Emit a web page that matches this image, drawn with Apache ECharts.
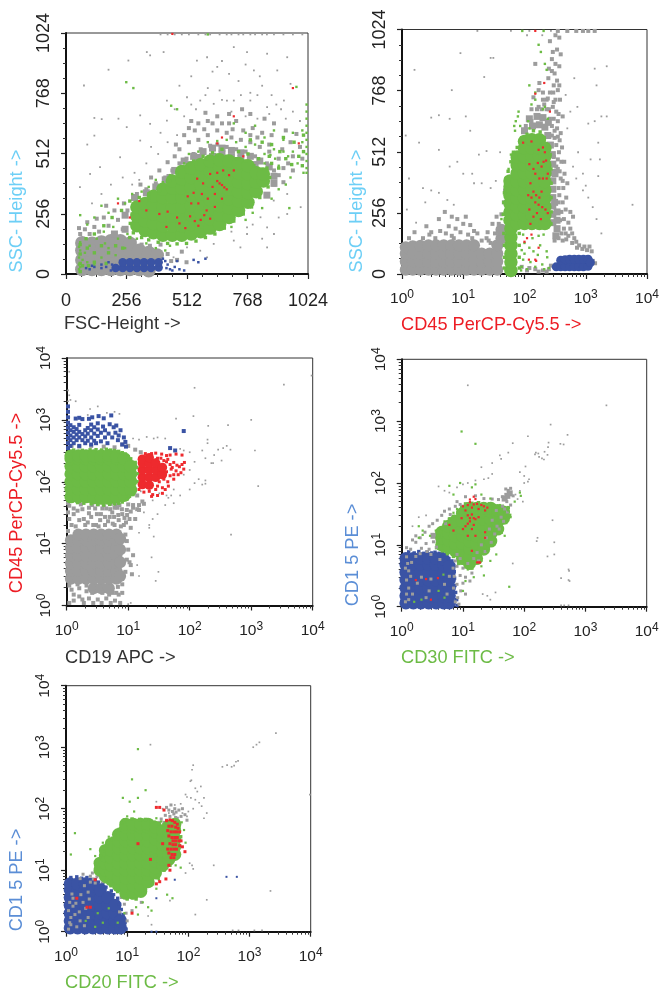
<!DOCTYPE html>
<html><head><meta charset="utf-8">
<script src="https://cdn.jsdelivr.net/npm/echarts@6/dist/echarts.min.js"></script>
<style>html,body{margin:0;padding:0;background:#fff}#c{width:667px;height:993px;filter:blur(.45px)}</style>
</head><body><div id="c"></div>
<script>
const linearTicks=[0,256,512,768,1024];
const axisNames=[["FSC-Height ->","SSC- Height ->"],["CD45 PerCP-Cy5.5 ->","SSC- Height ->"],["CD19 APC ->","CD45 PerCP-Cy5.5 ->"],["CD30 FITC ->","CD1 5 PE ->"],["CD20 FITC ->","CD1 5 PE ->"]];

/* Panel 1: FSC-Height vs SSC-Height */
const p1GrayCore=[[68,20],[68,60],[68,100],[68,132],[110,20],[110,60],[110,100],[110,130],[150,20],[150,60],[150,100],[150,135],[190,20],[190,60],[190,100],[190,140],[230,20],[230,60],[230,100],[230,140],[270,20],[270,60],[270,100],[270,130],[310,20],[310,60],[310,100],[350,15],[350,55],[350,90],[385,80]];
const p1GrayHalo=[[500,480],[540,500],[580,520],[620,535],[660,535],[700,525],[740,515],[780,500],[820,480],[860,455],[880,415],[880,385],[850,335],[460,440],[420,400],[380,370],[340,345],[290,325],[250,250],[250,190],[205,170],[620,500],[700,495],[560,495],[520,465],[660,510],[740,490],[800,465],[840,430],[440,410]];
const p1GrayMottle=[[60,170],[80,190],[120,200],[160,240],[220,230],[260,270],[200,170],[240,190],[300,340],[340,360],[380,385],[420,410],[450,440],[480,470],[510,490],[540,510],[570,530],[610,545],[640,550],[680,540],[720,530],[760,520],[800,500],[850,470],[880,440],[900,420],[920,390],[880,380],[600,590],[640,610],[680,600],[560,570],[520,560],[480,530],[460,500],[700,580],[740,570],[780,560],[820,540],[860,520],[900,490],[940,470],[960,440],[830,600],[870,590],[790,620],[720,650],[640,670],[600,650],[560,640],[520,620],[950,560],[990,540],[590,685],[530,650],[690,640],[780,590],[920,450],[55,195],[100,170],[140,180],[180,205],[90,220],[130,235],[170,290],[205,270],[245,300],[315,380],[360,410],[395,440],[430,475],[465,550],[500,590],[545,610],[585,615],[620,640],[660,640],[705,615],[750,610],[810,580],[860,550],[915,530],[960,500],[1000,490],[975,595],[930,610],[880,640],[840,660],[780,680],[745,700],[690,680],[400,125],[430,85],[445,55],[290,140],[320,125],[355,120],[470,60],[510,50],[490,95]];
const p1GraySpeck=[[180,868],[76,801],[120,663],[151,658],[90,550],[120,588],[222,660],[314,674],[342,943],[413,943],[264,907],[356,929],[554,907],[597,921],[710,964],[766,943],[851,936],[936,921],[795,865],[894,865],[950,808],[710,737],[568,737],[427,737],[512,751],[625,723],[681,737],[780,737],[851,709],[922,737],[427,652],[356,638],[257,624],[314,567],[229,496],[144,454],[102,425],[59,369],[851,198],[766,170],[851,113],[710,142],[625,128],[568,99],[879,312],[936,255],[993,284],[936,340],[823,241],[766,198],[738,113],[512,113],[455,71],[597,71],[400,1018],[430,1018],[460,1018],[490,1018],[520,1018],[560,1018],[590,1018],[610,1018],[650,1018],[680,1018],[700,1018],[730,1018],[750,1018],[780,1018],[800,1018],[830,1018],[850,1018],[880,1018],[920,1018],[960,1018],[1000,1018],[640,880],[690,850],[730,820],[780,770],[830,800],[870,760],[910,700],[960,690],[990,650],[480,800],[530,840],[600,790],[650,780],[700,690],[760,670],[810,660],[860,680],[470,590],[430,560],[390,510],[340,470],[290,430],[240,410],[190,380],[150,340],[110,300],[500,670],[550,700],[400,600],[360,540],[310,400],[280,380],[900,240],[880,170],[830,150],[790,210],[700,180],[620,860],[660,905],[760,890],[820,840],[740,760],[660,740],[590,760],[530,720],[460,700],[930,660],[890,720],[810,760]];
const p1GreenCore=[[300,205],[300,245],[300,285],[335,185],[335,225],[335,265],[335,300],[370,175],[370,215],[370,255],[370,295],[370,330],[410,165],[410,205],[410,245],[410,285],[410,325],[410,360],[450,165],[450,205],[450,245],[450,285],[450,325],[450,365],[450,395],[490,165],[490,205],[490,245],[490,285],[490,325],[490,365],[490,405],[490,435],[530,170],[530,210],[530,250],[530,290],[530,330],[530,370],[530,410],[530,450],[570,180],[570,220],[570,260],[570,300],[570,340],[570,380],[570,420],[570,465],[610,195],[610,235],[610,275],[610,315],[610,355],[610,395],[610,435],[610,480],[650,210],[650,250],[650,290],[650,330],[650,370],[650,410],[650,450],[650,485],[690,240],[690,280],[690,320],[690,360],[690,400],[690,440],[690,480],[730,270],[730,310],[730,350],[730,390],[730,430],[730,470],[770,305],[770,345],[770,385],[770,425],[770,460],[805,350],[805,390],[805,430],[835,395],[835,425]];
const p1GreenMottle=[[850,450],[870,470],[900,450],[930,490],[955,465],[985,500],[1000,460],[905,520],[860,500],[815,490],[770,510],[730,520],[780,570],[830,560],[870,550],[920,580],[965,560],[1005,520],[1005,590],[660,530],[620,515],[580,500],[540,480],[500,455],[470,425],[430,395],[395,370],[350,340],[310,325],[270,310],[235,270],[195,240],[160,205],[120,170],[85,150],[60,125],[60,85],[60,45],[60,10],[90,110],[120,90],[150,120],[180,90],[210,120],[240,110],[270,155],[120,50],[170,45],[95,35],[70,35],[272,215],[280,255],[285,175],[320,155],[350,145],[390,135],[430,130],[470,128],[510,130],[550,140],[590,155],[630,170],[670,195],[710,225],[750,255],[785,285],[820,325],[855,370],[862,410],[350,325],[395,355],[440,395],[510,455],[550,470],[595,490],[640,505],[680,500],[720,490],[760,480],[795,460],[825,445]];
const p1GreenSpeck=[[710,640],[760,600],[800,630],[840,580],[880,610],[920,570],[960,600],[1000,560],[1000,610],[960,520],[920,520],[880,530],[840,510],[800,550],[760,540],[720,560],[680,570],[640,565],[600,560],[560,520],[520,510],[500,470],[470,430],[440,420],[410,390],[380,400],[350,370],[320,350],[280,340],[250,300],[220,320],[180,260],[150,290],[120,240],[90,210],[60,250],[200,200],[160,180],[130,150],[100,120],[80,90],[70,60],[60,30],[60,10],[60,100],[55,70],[90,50],[120,40],[150,70],[180,110],[220,150],[260,170],[300,150],[340,130],[380,110],[420,100],[440,120],[900,460],[940,500],[980,470],[1005,430],[1018,450],[1018,480],[1018,510],[1018,540],[1018,570],[1018,600],[1018,630],[1018,660],[1018,690],[1018,720],[1018,430],[930,380],[950,410],[900,360],[870,320],[830,280],[790,260],[760,230],[700,200],[255,815],[285,790],[445,715],[470,700],[975,795],[945,280],[865,505],[885,490],[840,470],[600,1018],[250,110],[210,80],[165,130],[55,40],[55,20],[55,115],[60,135]];
const p1Blue=[[210,25],[240,25],[270,25],[300,25],[330,25],[360,25],[392,28],[240,50],[270,50],[300,50],[330,50],[360,50],[392,50]];
const p1BlueSpeck=[[85,25],[100,20],[120,30],[150,25],[170,30],[110,35],[150,40],[195,40],[430,40],[460,30],[480,20],[440,20],[500,15],[420,55],[470,55],[540,60],[590,65],[560,50],[450,15],[425,25],[410,65],[190,15],[180,50]];
const p1Red=[[450,1020],[340,270],[395,255],[425,200],[430,265],[470,240],[480,215],[505,195],[525,245],[545,225],[560,205],[570,230],[585,250],[595,270],[610,235],[630,285],[560,300],[530,300],[515,330],[540,345],[575,340],[600,320],[630,340],[660,320],[580,385],[555,405],[620,370],[640,395],[650,385],[660,378],[670,368],[680,360],[610,425],[640,430],[665,440],[690,420],[710,440],[750,500],[640,555],[660,580],[710,670],[985,555],[960,790],[310,310],[220,300],[270,240]];

/* Panel 2: CD45 PerCP-Cy5.5 vs SSC-Height */
const p2GrayCore=[[1.15,18],[1.15,52],[1.15,86],[1.15,112],[1.5,18],[1.5,52],[1.5,86],[1.5,116],[2,18],[2,52],[2,86],[2,118],[2.7,18],[2.7,52],[2.7,86],[2.7,120],[3.6,18],[3.6,52],[3.6,86],[3.6,120],[4.8,18],[4.8,52],[4.8,86],[4.8,120],[6.4,18],[6.4,52],[6.4,86],[6.4,120],[8.5,18],[8.5,52],[8.5,86],[8.5,120],[11.3,18],[11.3,52],[11.3,86],[11.3,120],[15,18],[15,52],[15,86],[15,120],[20,18],[20,52],[20,86],[27,18],[27,52],[27,86],[36,18],[36,52],[36,86],[36,120],[42,150],[42,185]];
const p2GrayHalo=[[290,215],[290,250],[290,285],[290,320],[290,355],[290,390],[290,425],[290,460],[340,190],[340,225],[340,260],[135,620],[175,625],[215,615],[240,580],[265,540],[160,660],[100,600],[120,650],[200,655],[245,635],[285,500],[315,420],[310,300],[325,160]];
const p2GrayMottle=[[2.2,150],[2.8,165],[3.5,150],[4.2,180],[5.2,170],[6.5,160],[7.5,190],[9,175],[10,210],[12,165],[14,150],[17,170],[20,140],[24,150],[28,130],[33,170],[38,210],[42,250],[46,300],[48,350],[1.3,150],[1.6,175],[4,230],[5,260],[6.5,240],[8,230],[11,240],[13,205],[360,300],[400,260],[440,230],[520,215],[560,190],[400,170],[470,170],[520,160],[360,150],[420,140],[310,140],[350,440],[390,400],[430,360],[480,320],[560,260],[620,240],[350,480],[400,470],[450,420],[500,380],[360,360],[300,490],[330,540],[375,560],[280,620],[310,600],[340,610],[390,590],[330,680],[300,650],[350,640],[420,660],[290,700],[250,690],[210,710],[320,730],[380,730],[260,760],[300,790],[340,810],[280,850],[320,880],[370,870],[340,940],[390,920],[290,930],[260,975],[370,990],[320,1000],[170,700],[130,690],[140,740],[175,800],[150,880],[1100,70],[1300,55],[1420,45],[1250,95],[1050,100],[880,105],[720,110],[600,130],[60,120],[90,30],[110,15],[150,20],[200,15],[250,20],[1100,1018],[1400,1018],[900,1018],[700,1018],[500,1018],[350,1018],[370,330],[420,300],[470,270],[440,190],[480,145],[380,225],[330,450],[375,430],[420,390],[365,510],[310,570],[350,575],[410,530],[445,470],[360,670],[230,730],[295,760],[350,770],[200,760],[245,820],[310,840],[370,790],[600,170],[650,150],[700,135],[780,120],[950,115],[1150,115],[3,175],[1.9,130],[2.5,200],[5.8,200],[7,150],[15,180],[25,175],[30,210],[35,240],[26,140],[120,25],[170,10],[230,10],[270,35],[130,640],[160,690],[190,690],[230,690],[260,650],[280,580],[105,620],[240,735],[200,730],[170,770],[300,720],[250,860],[280,900]];
const p2GraySpeck=[[1.2,270],[1.7,215],[2.4,300],[3,350],[4,340],[5.5,310],[7,290],[1.15,580],[1.9,550],[6.5,770],[9,925],[11,660],[3,655],[4,665],[6,650],[1.6,855],[28,905],[31,905],[22,825],[40,510],[24,515],[18,500],[10,420],[14,420],[8,470],[6,450],[4,520],[13,600],[15,380],[20,380],[28,360],[34,390],[2.2,360],[1.3,400],[17,1018],[3,30],[5,8],[60,1018],[120,1018],[110,1000],[195,1000],[270,1018],[650,820],[1400,860],[1500,790],[2200,870],[1100,630],[1400,640],[1800,660],[2200,660],[1600,550],[1700,480],[1200,480],[1600,410],[900,350],[1100,320],[1300,280],[1500,230],[1800,170],[1000,370],[5800,290],[700,400],[620,450],[900,420],[750,510],[500,610],[560,680],[730,700],[470,750]];
const p2GreenCore=[[60,15],[60,50],[60,85],[60,120],[60,155],[60,190],[58,225],[58,260],[58,295],[58,330],[58,365],[58,390],[76,212],[76,247],[76,282],[76,317],[76,352],[76,387],[76,422],[76,457],[76,490],[100,212],[100,247],[100,282],[100,317],[100,352],[100,387],[100,422],[100,457],[100,492],[100,527],[100,555],[132,212],[132,247],[132,282],[132,317],[132,352],[132,387],[132,422],[132,457],[132,492],[132,527],[132,562],[175,212],[175,247],[175,282],[175,317],[175,352],[175,387],[175,422],[175,457],[175,492],[175,527],[175,562],[215,212],[215,247],[215,282],[215,317],[215,352],[215,387],[215,422],[215,457],[215,492],[215,527]];
const p2GreenFringe=[[45,250],[46,300],[47,340],[50,400],[54,430],[60,470],[66,510],[76,530],[90,570],[110,585],[140,600],[180,595],[210,570],[240,540],[262,500],[270,440],[272,380],[272,320],[272,260],[270,210],[46,170],[47,120],[47,70],[47,25],[82,170],[82,120],[82,70],[82,25]];
const p2GreenSpeck=[[90,30],[95,60],[90,100],[100,130],[95,165],[110,20],[125,50],[120,110],[135,150],[150,30],[165,80],[180,120],[195,40],[210,20],[230,95],[250,25],[140,95],[170,160],[205,165],[235,70],[88,15],[100,85],[68,620],[72,640],[78,660],[80,680],[70,600],[85,560],[85,620],[120,610],[115,640],[130,710],[150,760],[205,1018],[92,1018],[170,960],[185,930],[215,880],[230,855],[120,790],[150,730],[200,690],[215,700],[240,650],[60,500],[55,440],[48,350],[42,230],[47,120]];
const p2Blue=[[330,30],[390,30],[460,30],[545,30],[650,30],[770,30],[915,30],[1090,32],[390,58],[460,60],[545,62],[650,62],[770,62],[915,62],[1090,62],[1190,48]];
const p2Red=[[150,1018],[210,800],[260,680],[150,755],[95,550],[130,555],[170,520],[200,530],[215,510],[120,460],[140,440],[165,465],[190,450],[205,470],[225,475],[150,420],[175,400],[200,400],[230,400],[240,420],[125,380],[140,345],[155,330],[175,320],[190,345],[115,330],[130,320],[150,300],[170,290],[195,280],[220,270],[240,255],[120,270],[140,240],[160,255],[185,230],[125,210],[110,150],[100,135],[130,165],[118,60],[150,60],[155,55],[170,110]];

/* Panel 3: CD19 APC vs CD45 PerCP-Cy5.5 */
const p3GrayCore=[[1.17,2.7],[1.17,3.6],[1.17,4.8],[1.17,6.4],[1.17,8.5],[1.17,11.3],[1.55,2.7],[1.55,3.6],[1.55,4.8],[1.55,6.4],[1.55,8.5],[1.55,11.3],[1.55,14],[2.06,2.7],[2.06,3.6],[2.06,4.8],[2.06,6.4],[2.06,8.5],[2.06,11.3],[2.06,14],[2.75,1.9],[2.75,2.7],[2.75,3.6],[2.75,4.8],[2.75,6.4],[2.75,8.5],[2.75,11.3],[2.75,14],[3.65,1.9],[3.65,2.7],[3.65,3.6],[3.65,4.8],[3.65,6.4],[3.65,8.5],[3.65,11.3],[3.65,14],[4.85,1.9],[4.85,2.7],[4.85,3.6],[4.85,4.8],[4.85,6.4],[4.85,8.5],[4.85,11.3],[4.85,14],[6.45,2.7],[6.45,3.6],[6.45,4.8],[6.45,6.4],[6.45,8.5],[6.45,11.3],[6.45,14],[7.4,3],[7.4,5],[7.4,8],[7.4,12]];
const p3GrayMottle=[[1.1,1.1],[1.3,1.2],[1.6,1.4],[1.9,1.1],[2.3,1.3],[2.7,1.1],[3.2,1.25],[3.7,1.1],[4.4,1.3],[5.2,1.1],[6.1,1.2],[7.4,1.1],[1.2,1.8],[1.6,1.9],[2.1,1.7],[6.4,1.6],[8,1.6],[8,2.2],[6.8,2],[1.1,2.1],[1.5,2.2],[9,3.5],[9.5,5.5],[10,8],[10.5,5],[9.5,11],[9,14],[11,4.5],[11.5,3.2],[12,6.5],[1.2,20],[1.6,24],[2,20],[2.5,27],[3,20],[3.5,24],[4.2,20],[5,27],[6,20],[7,24],[8.5,20],[1.3,30],[1.8,36],[2.3,31],[2.9,37],[3.6,30],[4.4,37],[5.5,32],[6.7,38],[8,30],[9.5,35],[1.1,41],[1.7,43],[3.2,43],[5.2,44],[7.2,42],[10,43],[12,38],[14,36],[13,25],[11,18],[15,42],[18,44],[16,300],[13,330],[10,380],[8,400],[6,360],[4,370],[2.5,380],[1.6,370],[1.2,380],[1.1,25],[1.4,19],[1.5,34],[1.9,25],[2.2,22],[2.3,38],[2.7,20],[3.1,30],[3.3,19],[3.8,37],[4.2,27],[4.7,23],[5.1,36],[5.6,21],[5.9,27],[6.3,42],[6.9,29],[7.6,19],[7.9,36],[8.7,26],[9.2,22],[9.6,29],[10.5,25],[1.3,37],[2.6,42],[4,42],[6,38],[1.05,32],[1.05,16],[1.05,45],[3.8,1.6],[2.6,1.6],[4.9,1.5],[1.3,1.5],[1.8,1.25],[2.1,2.1],[5.6,1.6],[7,1.5],[14,60],[15,35],[17,48],[12,42],[11,33]];
const p3GraySpeck=[[1.05,450],[1.05,600],[1.1,1100],[1.05,1400],[1.05,2000],[1.1,2500],[1.05,3000],[1.15,2100],[1.4,2000],[2.2,1200],[2.4,1500],[3.2,1650],[4.5,1300],[6,1350],[7.2,1250],[12,500],[15,480],[20,530],[26,500],[30,520],[40,500],[60,1050],[120,3300],[115,1150],[195,480],[195,420],[200,800],[420,820],[1000,1000],[3400,3700],[9600,5200],[160,320],[180,240],[225,200],[250,270],[330,220],[290,330],[350,350],[400,380],[460,330],[1150,320],[1300,85],[470,14],[180,93],[160,90],[140,110],[100,155],[80,130],[70,60],[50,60],[55,75],[45,55],[40,42],[30,30],[25,25],[22,18],[18,32],[15,15],[26,13],[24,6],[22,20],[31,3.5],[28,2.5],[14,4.5],[15,3],[10,1.05],[11,1.1],[16,70],[25,50],[32,65],[42,60],[55,45],[100,75],[120,95],[180,105],[120,210],[100,300],[80,320],[70,340],[240,200],[1.1,6000]];
const p3GreenCore=[[1.17,57],[1.17,76],[1.17,101],[1.17,134],[1.17,178],[1.17,236],[1.17,262],[1.55,57],[1.55,76],[1.55,101],[1.55,134],[1.55,178],[1.55,236],[1.55,262],[2.06,57],[2.06,76],[2.06,101],[2.06,134],[2.06,178],[2.06,236],[2.06,262],[2.75,55],[2.75,76],[2.75,101],[2.75,134],[2.75,178],[2.75,236],[2.75,262],[3.65,54],[3.65,76],[3.65,101],[3.65,134],[3.65,178],[3.65,236],[3.65,262],[4.85,54],[4.85,76],[4.85,101],[4.85,134],[4.85,178],[4.85,236],[4.85,268],[6.45,57],[6.45,76],[6.45,101],[6.45,134],[6.45,178],[6.45,236],[6.45,255],[8.6,60],[8.6,76],[8.6,101],[8.6,134],[8.6,178],[8.6,236],[11,74],[11,101],[11,134],[11,178]];
const p3GreenFringe=[[13,75],[14,100],[14.5,135],[13.8,170],[13,205],[11,235],[10,255],[1.3,325],[1.8,322],[2.4,328],[3,330],[3.7,326],[4.4,335],[5.2,325],[6,320],[7,310],[8,295],[9,280],[1.5,46],[1.9,45],[2.5,44],[3.2,43],[4,42],[5,43],[6,44],[7,45],[8,47],[9.5,52],[10.5,58],[12,62]];
const p3Blue=[[1.05,350],[1.05,420],[1.05,510],[1.05,620],[1.05,750],[1.05,900],[1.05,1100],[1.05,1350],[1.05,1650],[1.15,380],[1.15,470],[1.15,560],[1.15,680],[1.15,820],[1.3,420],[1.3,520],[1.3,640],[1.3,760],[1.45,470],[1.45,580],[1.45,710],[1.6,380],[1.6,520],[1.6,640],[1.6,830],[1.8,470],[1.8,590],[1.8,1030],[2,420],[2,540],[2,680],[2.2,460],[2.2,600],[2.2,740],[2.5,400],[2.5,520],[2.5,680],[2.5,840],[2.8,460],[2.8,600],[2.8,760],[3,420],[3.2,550],[3.2,700],[3.2,880],[3.6,450],[3.6,620],[3.9,780],[4.2,520],[4.2,680],[4.6,420],[4.8,600],[5,850],[5.5,520],[5.8,760],[6.2,620],[6.8,470],[7,560],[7.5,680],[8,400],[8.5,520],[9,440],[1.4,1050],[1.6,1080],[2.3,1040],[2.6,1100],[3.3,1150],[4,1060],[5.3,1180],[6.4,810],[9.2,370],[48,350],[80,660],[58,320]];
const p3RedCore=[[17,90],[17,118],[17,155],[17,200],[17,232],[22,88],[22,118],[22,155],[22,200],[22,245],[28,118],[28,155],[28,200],[36,130],[36,170]];
const p3RedSpeck=[[15,75],[18,68],[22,70],[25,62],[28,75],[30,85],[32,100],[36,80],[40,75],[38,110],[44,100],[48,125],[42,145],[50,160],[55,130],[60,150],[68,175],[75,190],[82,205],[62,185],[55,205],[48,190],[42,210],[38,220],[30,240],[35,280],[28,290],[24,285],[19,285],[42,265],[48,270],[60,280],[75,270],[55,110],[65,130],[72,140],[45,85],[36,65],[30,60],[24,58],[40,170],[44,230],[52,170],[34,240],[29,225],[80,160]];

/* Panel 4: CD30 FITC vs CD15 PE */
const p4BlueCore=[[1.17,1.15],[1.17,1.5],[1.17,2],[1.17,2.7],[1.17,3.6],[1.17,4.8],[1.17,6],[1.55,1.15],[1.55,1.5],[1.55,2],[1.55,2.7],[1.55,3.6],[1.55,4.8],[1.55,6],[2.06,1.15],[2.06,1.5],[2.06,2],[2.06,2.7],[2.06,3.6],[2.06,4.8],[2.06,6],[2.75,1.15],[2.75,1.5],[2.75,2],[2.75,2.7],[2.75,3.6],[2.75,4.8],[2.75,6],[3.65,1.15],[3.65,1.5],[3.65,2],[3.65,2.7],[3.65,3.6],[3.65,4.8],[3.65,6],[4.85,1.15],[4.85,1.5],[4.85,2],[4.85,2.7],[4.85,3.6],[4.85,4.8],[4.85,5.8],[6,1.15],[6,1.5],[6,2],[6,2.7],[6,3.6],[6,4.5]];
const p4BlueFringe=[[1.3,7.7],[1.6,7.4],[1.9,7.8],[2.3,7.3],[2.6,7.7],[3.1,7.4],[3.5,7.6],[4.1,7.3],[4.6,7.2],[5.3,7],[5.9,6],[6.6,5.5],[7,4.6],[7.2,3.7],[7.3,2.9],[7.4,2.2],[7.6,1.7],[7.9,1.3],[8,1.05]];
const p4GrayCore=[[5,11.3],[4,12],[3.3,14],[5.6,16],[7,24],[10,40],[13,44],[58,68],[53,62],[48,56]];
const p4GrayMottle=[[1.2,9],[1.4,8.5],[1.7,11],[2.1,8.8],[2.5,10.5],[2.8,8.5],[3.3,11.2],[3.7,9.2],[1.5,12],[1.7,14],[2,13],[2.4,16],[2.8,20],[3.2,22],[3.8,25],[4.5,30],[5,35],[6,38],[7.5,42],[9,45],[9,6],[8,4.5],[9,3.2],[8,2.3],[9.2,1.8],[8.2,1.4],[8.6,1.1],[10,4.2],[11,3],[13,2.6],[12,5],[15,6],[17,7.5],[20,10],[24,13],[27,18],[30,25],[36,20],[42,28],[48,38],[35,36],[44,42],[52,50],[38,54],[44,60],[30,55],[66,62],[60,82],[55,76],[50,80],[1.2,2.7],[1.3,2],[1.2,1.6],[1.4,3.1],[1.5,1.6],[1.8,2.4],[2.1,3],[2.5,1.4],[2.8,1.8],[3,2.8],[1.3,3.8],[1.25,5],[5,2.3],[5.5,1.6],[6,3.1],[4.2,5.8],[1.15,1.2],[1.3,1.3],[1.15,4.2],[1.2,6.4],[1.45,5.2],[1.7,6.5],[2,7.2],[2.6,7.8],[3,7],[7.5,5.5],[8,7],[6.9,4.2],[7.2,3.1],[7,2],[7.5,1.2],[10,2.4],[11,1.6],[14,3.5],[18,5.5],[23,7.8],[29,11],[33,15],[39,18],[46,24],[53,34],[60,44],[5.2,22],[6.2,31],[8,50],[11,60],[16,62],[22,56]];
const p4GraySpeck=[[12,3800],[2200,1800],[270,880],[510,600],[440,420],[390,430],[250,450],[245,380],[115,570],[65,440],[170,300],[150,290],[175,265],[195,250],[210,240],[240,285],[155,310],[215,320],[105,185],[120,115],[100,130],[85,150],[100,100],[115,105],[55,310],[40,280],[42,245],[30,210],[30,140],[26,120],[20,180],[22,115],[16,110],[12,100],[10,95],[8,85],[4,88],[5,75],[6,70],[290,25],[165,13],[160,11.5],[310,11],[240,6.5],[310,7],[65,5],[530,4],[400,2.9],[530,2.7],[550,2.6],[540,3.8],[400,1.05],[450,1.05],[530,1.05],[25,1.5],[34,1.7],[28,1.3],[21,1.6],[1.9,28],[2.5,30],[1.5,20],[72,65],[85,75],[78,55],[95,50]];
const p4GreenCore=[[4.5,10],[4.5,13],[4.5,16],[5.8,9],[5.8,12],[5.8,15.5],[5.8,20],[7.5,8],[7.5,10.5],[7.5,14],[7.5,18.5],[7.5,24],[9.8,6],[9.8,8],[9.8,10.5],[9.8,14],[9.8,18.5],[9.8,24],[9.8,32],[12.8,5],[12.8,6.6],[12.8,8.7],[12.8,11.5],[12.8,15],[12.8,20],[12.8,26],[12.8,34],[12.8,39],[16.7,6],[16.7,8],[16.7,10.5],[16.7,14],[16.7,18.5],[16.7,24],[16.7,32],[16.7,39],[21.8,8.5],[21.8,11],[21.8,15],[21.8,20],[21.8,26],[21.8,34],[21.8,39],[28.5,11.5],[28.5,15],[28.5,20],[28.5,26],[28.5,34],[28.5,39],[37,18],[37,24],[37,32],[37,36],[46,27],[46,34]];
const p4GreenFringe=[[3.7,9],[4,14],[4.6,19],[5.2,22],[6,26],[7,29],[8.3,34],[9.6,40],[11,46],[14,47],[18,48],[22,46],[27,46],[33,43],[44,42],[55,40],[58,30],[50,23],[42,16],[32,12],[24,8],[19,5.8],[14,4.2],[11,4.4],[8.5,5],[7,6.5],[5.6,7.2],[4.6,8]];
const p4GreenSpeck=[[4,13],[3.6,17],[2.9,14],[2.2,17],[1.9,20],[1.9,13],[2.2,14.5],[4.5,18],[5,24],[6,27],[7,33],[8,38],[7,65],[9,100],[16,95],[14,85],[6,90],[20,65],[28,56],[40,44],[48,34],[55,36],[60,28],[70,50],[85,70],[88,62],[9.5,680],[16,430],[57,2.1],[48,14],[35,7],[28,5.5],[20,4.5],[25,8],[22,3.2],[12,4],[15,3],[11,2.6],[10,1.8],[4,1.8],[5,1.4],[4.8,3.3],[2.1,1.3],[1.6,1.2],[20,5.5]];
const p4Red=[[9.5,27],[10,42],[11,36],[12,44],[13,49],[14,40],[15,45],[16,55],[17,46],[18,38],[20,44],[22,42],[23,36],[25,40],[12,30],[13,27],[14,31],[15,27],[16,26],[13,24],[12,22],[11,20],[15,21],[14,18],[18,28],[6,21],[7,17],[10,18],[23,16],[12,14],[16,14],[14,8],[17,5.2],[18,5.2],[19,5.2],[23,13],[1.7,2.7],[2.5,2.8],[3.9,2.9],[3,1.3],[15,60],[13,54]];

/* Panel 5: CD20 FITC vs CD15 PE */
const p5BlueCore=[[1.17,1.15],[1.17,1.5],[1.17,2],[1.17,2.7],[1.17,3.6],[1.17,4.8],[1.17,6],[1.55,1.15],[1.55,1.5],[1.55,2],[1.55,2.7],[1.55,3.6],[1.55,4.8],[1.55,6],[2.06,1.15],[2.06,1.5],[2.06,2],[2.06,2.7],[2.06,3.6],[2.06,4.8],[2.06,6],[2.75,1.15],[2.75,1.5],[2.75,2],[2.75,2.7],[2.75,3.6],[2.75,4.8],[2.75,5.6],[3.65,1.15],[3.65,1.5],[3.65,2],[3.65,2.7],[3.65,3.6],[3.65,4.8],[4.85,1.15],[4.85,1.5],[4.85,2],[4.85,2.7],[4.85,3.6],[6.3,1.15],[6.3,1.5],[6.3,2],[6.3,2.7],[7.8,1.15],[7.8,1.5]];
const p5BlueFringe=[[1.2,7.6],[1.5,7.8],[1.8,7.4],[2.2,7.6],[2.5,7.1],[3,7],[3.4,6.4],[4,6],[4.5,5.3],[5.5,4.6],[6,4],[7,3.5],[7.5,2.8],[8,2.3],[8.6,1.9],[9.2,1.4],[9.6,1.1]];
const p5GrayMottle=[[1.1,1.1],[1.2,1.7],[1.1,2.2],[1.3,2.6],[1.2,1.3],[1.5,1.2],[1.7,1.5],[2,1.25],[2.3,1.7],[1.4,1.9],[1.9,3],[2.1,2.4],[2.4,3.4],[1.3,3.5],[2.3,4.4],[2,5.6],[2.5,6.4],[2.8,7.2],[3.2,7.8],[3.5,8.3],[2.5,8],[1.7,7.3],[1.9,8.6],[3,6.2],[4,6.5],[4.8,6.8],[8,3.6],[9,2.8],[7.5,2.1],[9.6,2],[10,1.5],[12,2.2],[15,4.2],[17,3],[13,4],[40,60],[44,65],[50,75],[58,82],[63,88],[70,95],[80,100],[66,70],[72,55],[34,60],[36,68],[30,52],[38,50],[1.15,1.4],[1.15,3],[1.25,4.1],[1.45,2.9],[1.65,2.1],[1.75,4],[2.7,9],[3.9,9.5],[4.4,8.2],[5.5,6],[62,72],[55,90],[48,95],[42,78],[76,75],[88,80],[95,65],[52,115],[60,100],[44,105]];
const p5GraySpeck=[[2700,1700],[1450,1200],[1300,1100],[1150,1000],[650,600],[600,580],[560,500],[510,480],[430,510],[360,480],[120,510],[115,430],[112,290],[108,280],[160,230],[130,215],[140,190],[90,170],[95,155],[110,150],[180,150],[130,140],[150,125],[165,110],[120,100],[100,90],[80,85],[95,75],[200,85],[180,70],[24,1100],[9700,170],[260,12],[2200,4.6],[200,3.3],[50,3.2],[22,1.8],[25,1.3],[130,1.9],[530,1.05],[660,1.05],[1200,1.05],[1600,1.05],[120,10.5],[115,12],[105,13],[90,9],[30,130],[38,100],[48,85],[60,115],[75,120]];
const p5GreenCore=[[3.6,10],[3.6,13],[4.4,8],[4.4,10],[4.4,13],[4.4,17],[4.4,21],[5.5,7],[5.5,9],[5.5,12],[5.5,16],[5.5,21],[5.5,27],[7.2,5.6],[7.2,7.5],[7.2,10],[7.2,13],[7.2,17.5],[7.2,23],[7.2,30],[7.2,38],[9.5,4.2],[9.5,5.6],[9.5,7.5],[9.5,10],[9.5,13],[9.5,17.5],[9.5,23],[9.5,30],[9.5,38],[9.5,50],[9.5,56],[12.6,4.2],[12.6,5.6],[12.6,7.5],[12.6,10],[12.6,13],[12.6,17.5],[12.6,23],[12.6,30],[12.6,38],[12.6,50],[12.6,56],[16.7,4.5],[16.7,5.6],[16.7,7.5],[16.7,10],[16.7,13],[16.7,17.5],[16.7,23],[16.7,30],[16.7,38],[16.7,50],[16.7,56],[22,6.5],[22,8.5],[22,10],[22,13],[22,17.5],[22,23],[22,30],[22,38],[22,50],[22,56],[29,9],[29,11],[29,14],[29,18],[29,24],[29,32],[29,42],[29,50],[38,12],[38,15],[38,20],[38,26],[38,34],[38,44],[48,15],[48,18],[48,24],[48,32],[48,42],[48,52],[60,18],[60,24],[60,32],[60,44],[60,56]];
const p5GreenFringe=[[3.1,11],[3.3,14.5],[3.7,17],[4.2,23],[4.9,28],[5.7,33],[6.4,40],[7.4,46],[8.3,58],[9,66],[12,68],[16,67],[20,67],[25,62],[33,57],[40,55],[50,60],[70,50],[75,35],[72,25],[68,17],[50,12],[40,10],[32,7.5],[26,6],[20,5],[14,3.4],[10,3.4],[7,4.5],[5.4,5.6],[4.4,6.5]];
const p5GreenSpeck=[[3,13],[3.6,16],[4.2,20],[4.8,24],[5.6,30],[6.4,38],[7.6,48],[9,60],[10,75],[13,90],[12,300],[15,930],[8.5,150],[15,150],[20,200],[11,130],[1.4,40],[1.2,18],[3,17],[2.5,22],[4,28],[5,35],[8,60],[30,70],[28,62],[36,62],[78,60],[85,45],[90,28],[70,20],[62,12],[60,15],[75,11],[33,7],[30,5],[45,4],[55,3.5],[18,3],[22,2.5],[25,2.2],[14,2.5],[15,1.9],[12,3.5],[9,2],[3,1.2],[4,1.4],[7,1.4],[5,2.4],[3.3,2],[2.1,1.5]];
const p5Red=[[44,64],[50,66],[55,64],[60,60],[66,56],[48,52],[54,52],[62,50],[68,48],[46,44],[52,42],[58,42],[64,42],[72,42],[48,36],[54,34],[60,34],[66,34],[56,30],[62,30],[70,30],[76,30],[50,27],[56,26],[62,26],[72,25],[46,22],[52,22],[58,22],[64,22],[80,24],[48,19],[54,18],[60,18],[52,16],[58,16],[88,20],[34,105],[30,105],[40,95],[38,27],[15,27],[24,15],[48,12],[50,10],[43,7.2],[34,6.5],[30,6],[1.5,3.5],[2.2,2.5],[2.5,2.5],[12,2],[3,7]];
const p5Blue2=[[420,7.8],[620,7.8],[60,7],[30,3.5],[25,1],[30,1]];

const COLORS={gray:"#9c9c9c",green:"#6cbb45",blue:"#3a53a4",red:"#ee2a2e"};
const layouts=[[66,33,242,241],[402,29.5,245,244.5],[66.7,358,246,247.5],[401.7,359.3,245,247.4],[66,685.7,244.7,246]];
const nameStyle=[[["#333",64,324],["#6dcff6",17,211]],[["#ed1c24",401,325],["#6dcff6",357,211]],[["#333",65,658],["#ed1c24",17,503]],[["#6cbb45",401,658],["#5b8ed6",353,555]],[["#6cbb45",65,983],["#5b8ed6",17,880]]];

const layers=[
 [p1GrayCore,"gray",14,"circle"],[p1GrayHalo,"gray",7,"rect"],[p1GraySpeck,"gray",1.8,"rect"],[p1GrayMottle,"gray",4,"rect"],[p1GreenCore,"green",13.5,"circle"],[p1GreenMottle,"green",3.4,"rect"],[p1GreenSpeck,"green",2.4,"rect"],[p1Blue,"blue",8.5,"circle"],[p1BlueSpeck,"blue",2.5,"rect"],[p1Red,"red",2.2,"rect"]
].map(l=>[0,...l]).concat([
 [p2GrayCore,"gray",12,"circle"],[p2GrayHalo,"gray",7,"rect"],[p2GrayMottle,"gray",4,"rect"],[p2GraySpeck,"gray",1.8,"rect"],[p2GreenCore,"green",13.5,"circle"],[p2GreenFringe,"green",3.4,"rect"],[p2GreenSpeck,"green",2.4,"rect"],[p2Blue,"blue",9,"circle"],[p2Red,"red",2.2,"rect"]
].map(l=>[1,...l])).concat([
 [p3GrayCore,"gray",12,"circle"],[p3GrayMottle,"gray",4,"rect"],[p3GraySpeck,"gray",1.7,"rect"],[p3GreenCore,"green",13,"circle"],[p3GreenFringe,"green",3.4,"rect"],[p3Blue,"blue",4,"rect"],[p3RedCore,"red",9.5,"circle"],[p3RedSpeck,"red",3,"rect"]
].map(l=>[2,...l])).concat([
 [p4BlueCore,"blue",13,"circle"],[p4BlueFringe,"blue",3.4,"rect"],[p4GrayCore,"gray",6,"rect"],[p4GreenCore,"green",13,"circle"],[p4GreenFringe,"green",3.4,"rect"],[p4GrayMottle,"gray",3,"rect"],[p4GraySpeck,"gray",1.7,"rect"],[p4GreenSpeck,"green",2.2,"rect"],[p4Red,"red",2.2,"rect"]
].map(l=>[3,...l])).concat([
 [p5BlueCore,"blue",13,"circle"],[p5BlueFringe,"blue",3.4,"rect"],[p5GrayMottle,"gray",3,"rect"],[p5GraySpeck,"gray",1.7,"rect"],[p5GreenCore,"green",13,"circle"],[p5GreenFringe,"green",3.4,"rect"],[p5GreenSpeck,"green",2.2,"rect"],[p5Red,"red",3,"rect"],[p5Blue2,"blue",2,"rect"]
].map(l=>[4,...l]));

const isLinear=i=>i<2;
function axis(i,isY){
  const linear=isLinear(i)&&(isY||i===0);
  const base={gridIndex:i,animation:false,splitLine:{show:false},
    axisLine:{show:true,onZero:false,lineStyle:{color:"#111",width:2}},
    axisTick:{show:true,length:5,lineStyle:{color:"#222",width:1.2}},
    minorTick:{show:true,length:3,splitNumber:linear?4:9,lineStyle:{color:"#333",width:1}},
    minorSplitLine:{show:false}};
  const label={color:"#222",fontFamily:"Liberation Sans",fontSize:18,rotate:isY?90:0,margin:isY?13:18,hideOverlap:false,showMinLabel:true,showMaxLabel:true};
  if(linear) return {...base,type:"value",min:0,max:1024,interval:256,
    axisLabel:{...label,customValues:linearTicks,formatter:v=>String(v)}};
  return {...base,type:"log",logBase:10,min:1,max:10000,
    axisLabel:{...label,fontSize:15.5,margin:isY?11:15,formatter:v=>"10{s|"+Math.round(Math.log10(v))+"}",
      rich:{s:{fontSize:12,fontFamily:"Liberation Sans",color:"#222",verticalAlign:"top",padding:[0,0,8,0]}}}};
}

const graphic=[];
axisNames.forEach((pair,i)=>{
  const [[cx,xx,xy],[cy,yx,yy]]=nameStyle[i];
  graphic.push({type:"text",x:xx,y:xy,silent:true,style:{text:pair[0],fill:cx,font:'18.2px "Liberation Sans"',align:"left",verticalAlign:"middle"}});
  graphic.push({type:"text",x:yx,y:yy,rotation:Math.PI/2,silent:true,style:{text:pair[1],fill:cy,font:'18.2px "Liberation Sans"',align:"center",verticalAlign:"middle"}});
});

const chart=echarts.init(document.getElementById("c"),null,{renderer:"canvas"});
chart.setOption({
  animation:false,backgroundColor:"#fff",
  grid:layouts.map(([l,t,w,h])=>({left:l,top:t,width:w,height:h,show:true,borderColor:"#333",borderWidth:1,containLabel:false})),
  xAxis:layouts.map((_,i)=>axis(i,false)),
  yAxis:layouts.map((_,i)=>axis(i,true)),
  graphic,
  series:layers.map(([i,data,c,size,symbol])=>({type:"scatter",xAxisIndex:i,yAxisIndex:i,data,symbol,symbolSize:size,clip:true,silent:true,itemStyle:{color:COLORS[c],opacity:1},animation:false,large:false}))
});
</script></body></html>
